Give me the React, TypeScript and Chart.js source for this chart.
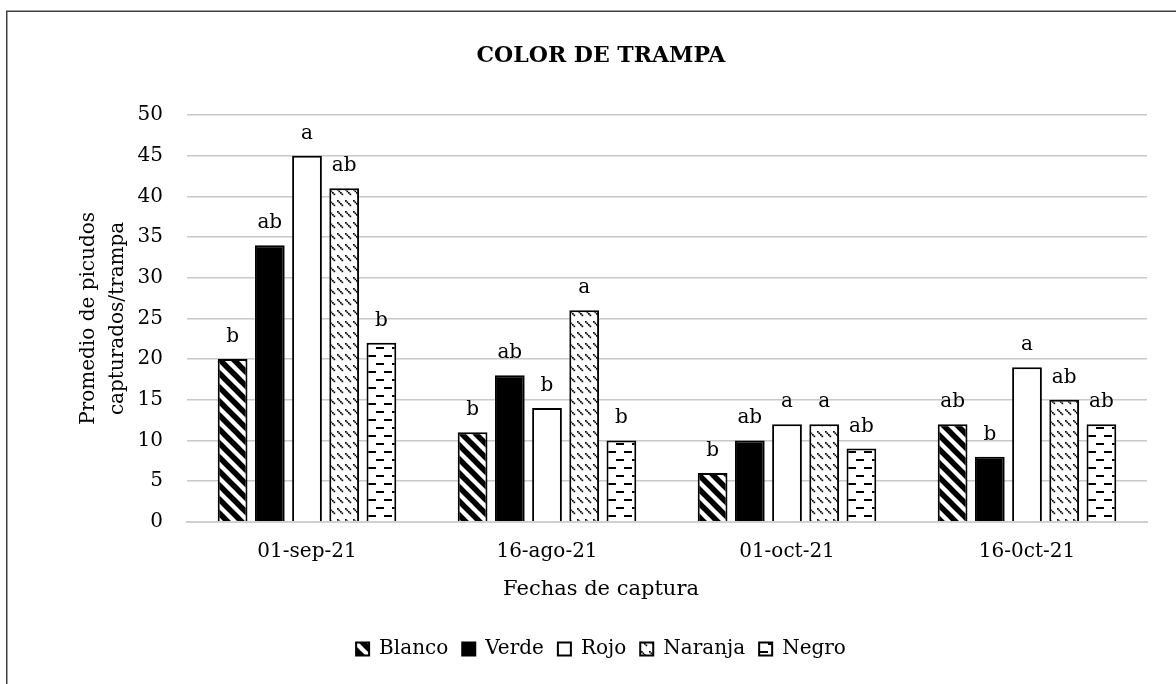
import React, { useEffect, useRef } from 'react';
import { Chart, registerables } from 'chart.js';

Chart.register(...registerables);

const categories = ['01-sep-21', '16-ago-21', '01-oct-21', '16-0ct-21'];
const seriesNames = ['Blanco', 'Verde', 'Rojo', 'Naranja', 'Negro'];
const blanco = [20, 11, 6, 12];
const verde = [34, 18, 10, 8];
const rojo = [45, 14, 12, 19];
const naranja = [41, 26, 12, 15];
const negro = [22, 10, 9, 12];
const blancoLetters = ['b', 'b', 'b', 'ab'];
const verdeLetters = ['ab', 'ab', 'ab', 'b'];
const rojoLetters = ['a', 'b', 'a', 'a'];
const naranjaLetters = ['ab', 'a', 'a', 'ab'];
const negroLetters = ['b', 'b', 'ab', 'ab'];
const yMin = 0;
const yMax = 50;
const yStep = 5;

const FONT = "'DejaVu Serif', serif";

function makePattern(ctx: CanvasRenderingContext2D, w: number, h: number, draw: (g: CanvasRenderingContext2D) => void) {
  const c = document.createElement('canvas');
  c.width = w;
  c.height = h;
  const g = c.getContext('2d')!;
  g.fillStyle = '#ffffff';
  g.fillRect(0, 0, w, h);
  g.fillStyle = '#000000';
  g.strokeStyle = '#000000';
  draw(g);
  return ctx.createPattern(c, 'repeat')!;
}

export default function App() {
  const canvasRef = useRef<HTMLCanvasElement | null>(null);

  useEffect(() => {
    const canvas = canvasRef.current!;
    const ctx = canvas.getContext('2d')!;

    const blancoPat = makePattern(ctx, 14, 14, (g) => {
      g.lineWidth = 5.5;
      for (let k = -1; k <= 1; k++) {
        g.beginPath();
        g.moveTo(k * 14 - 4, -4);
        g.lineTo(k * 14 + 18, 18);
        g.stroke();
      }
    });
    const naranjaPat = makePattern(ctx, 8, 11, (g) => {
      for (let i = 0; i < 4; i++) {
        g.fillRect(1 + i * 1.5, 2 + i * 1.5, 1.7, 1.7);
      }
    });
    const negroPat = makePattern(ctx, 16, 16, (g) => {
      g.fillRect(0, 3, 8, 2);
      g.fillRect(8, 11, 8, 2);
    });

    const series = [blanco, verde, rojo, naranja, negro];
    const fills: (string | CanvasPattern)[] = [blancoPat, '#000000', '#ffffff', naranjaPat, negroPat];
    const letters = [blancoLetters, verdeLetters, rojoLetters, naranjaLetters, negroLetters];

    const borderPlugin = {
      id: 'outerBorder',
      beforeDraw(chart: any) {
        const c = chart.ctx;
        c.save();
        c.fillStyle = '#ffffff';
        c.fillRect(0, 0, chart.width, chart.height);
        c.strokeStyle = '#404040';
        c.lineWidth = 1.5;
        c.strokeRect(6.75, 11.25, 1400, 900);
        c.restore();
      },
    };

    const letterPlugin = {
      id: 'letters',
      afterDatasetsDraw(chart: any) {
        const c = chart.ctx;
        c.save();
        c.font = `20px ${FONT}`;
        c.fillStyle = '#000000';
        c.textAlign = 'center';
        c.textBaseline = 'alphabetic';
        chart.data.datasets.forEach((_ds: any, i: number) => {
          const meta = chart.getDatasetMeta(i);
          meta.data.forEach((bar: any, j: number) => {
            c.fillText(letters[i][j], bar.x, bar.y - 17);
          });
        });
        c.restore();
      },
    };

    const chart = new Chart(ctx, {
      type: 'bar',
      data: {
        labels: categories,
        datasets: seriesNames.map((name, i) => ({
          label: name,
          data: series[i],
          backgroundColor: fills[i] as any,
          borderColor: '#000000',
          borderWidth: 2,
          categoryPercentage: 0.775,
          barPercentage: 0.8,
        })),
      },
      options: {
        responsive: false,
        animation: false,
        layout: { padding: { left: 55, right: 29, top: 0, bottom: 15 } },
        plugins: {
          title: {
            display: true,
            text: 'COLOR DE TRAMPA',
            color: '#000000',
            font: { family: FONT, size: 22, weight: 'bold' },
            padding: { top: 43, bottom: 45.6 },
          },
          subtitle: {
            display: true,
            position: 'bottom',
            weight: 500,
            text: 'Fechas de captura',
            color: '#000000',
            font: { family: FONT, size: 21 },
            padding: { top: 5, bottom: 23 },
          } as any,
          legend: {
            position: 'bottom',
            labels: {
              color: '#000000',
              font: { family: FONT, size: 20 },
              boxWidth: 13,
              boxHeight: 13,
              padding: 14,
            },
          },
          tooltip: { enabled: false },
        },
        scales: {
          x: {
            grid: { display: false, drawTicks: false },
            border: { display: true, color: '#d0d0d0', width: 2 },
            ticks: { color: '#000000', font: { family: FONT, size: 20 }, padding: 18 },
            afterFit(scale: any) {
              scale.height = 50;
            },
          },
          y: {
            min: yMin,
            max: yMax,
            ticks: { stepSize: yStep, color: '#000000', font: { family: FONT, size: 20 }, padding: 24 },
            grid: { color: '#c8c8c8', lineWidth: 1.5, drawTicks: false },
            border: { display: false },
            title: {
              display: true,
              text: ['Promedio de picudos', 'capturados/trampa'],
              color: '#000000',
              font: { family: FONT, size: 20, lineHeight: 1.45 },
              padding: { top: 19.5, bottom: 0 },
            },
            afterFit(scale: any) {
              scale.width = 132;
            },
          },
        },
      },
      plugins: [borderPlugin, letterPlugin],
    });

    return () => chart.destroy();
  }, []);

  return (
    <div style={{ position: 'fixed', left: 0, top: 0, width: 1176, height: 684 }}>
      <canvas ref={canvasRef} width={1176} height={684} style={{ width: 1176, height: 684, display: 'block' }} />
    </div>
  );
}
